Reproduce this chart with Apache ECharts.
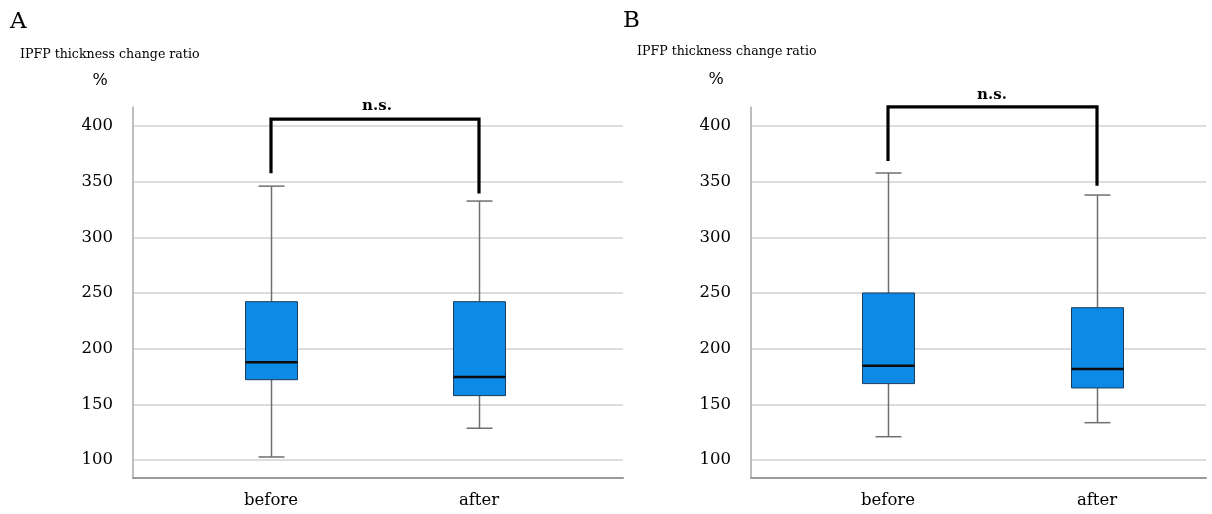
<!DOCTYPE html>
<html>
<head>
<meta charset="utf-8">
<script src="https://cdn.jsdelivr.net/npm/echarts@6/dist/echarts.min.js"></script>
<style>
html,body{margin:0;padding:0;background:#fff;}
#chart{width:1212px;height:514px;}
</style>
</head>
<body>
<div id="chart"></div>
<script>
// ---- data ----
const categories = ['before', 'after'];
const yTicks = [100, 150, 200, 250, 300, 350, 400];
// [min, Q1, median, Q3, max]
const boxA = [[102.7, 172.1, 187.7, 242.2, 346.0], [128.5, 157.8, 174.6, 242.2, 332.6]];
const boxB = [[120.9, 168.6, 184.7, 250.0, 357.8], [133.5, 164.7, 181.7, 236.8, 338.0]];
// significance bracket: [left end, top, right end]
const bracketA = [357.6, 406.2, 339.5];
const bracketB = [368.6, 417.3, 346.4];
const sigLabel = 'n.s.';
const panelLabels = ['A', 'B'];
const yTitle = 'IPFP thickness change ratio';
const yUnit = '%';

// ---- style ----
const Y_MIN = 83.8, Y_MAX = 417.1;
const SERIF = '"DejaVu Serif", "Liberation Serif", serif';
const BOX_FILL = '#0d8ae6';
const BOX_BORDER = '#1d3b5a';
const WHISKER = '#6f6f6f';

const chart = echarts.init(document.getElementById('chart'), null, {renderer: 'canvas'});

const frameGrids = [
  {left: 133, width: 490, top: 107, height: 371},
  {left: 751, width: 455, top: 107, height: 371}
];
const dataGrids = [
  {left: 167, width: 416, top: 107, height: 371},
  {left: 783.5, width: 418, top: 107, height: 371}
];

const grids = [...frameGrids, ...dataGrids];

const xAxes = [];
const yAxes = [];
for (let i = 0; i < 2; i++) {
  xAxes.push({
    gridIndex: i, type: 'category', data: categories,
    axisLine: {show: true, lineStyle: {color: '#9a9a9a', width: 2}},
    axisTick: {show: false}, axisLabel: {show: false}, splitLine: {show: false}
  });
  yAxes.push({
    gridIndex: i, type: 'value', min: Y_MIN, max: Y_MAX,
    axisLine: {show: true, lineStyle: {color: '#a8a8a8', width: 1.5}},
    axisTick: {show: false, customValues: yTicks},
    axisLabel: {customValues: yTicks, margin: 20, color: '#000', fontFamily: SERIF, fontSize: 16.5},
    splitLine: {show: true, lineStyle: {color: '#d2d2d2', width: 1.5}}
  });
}
for (let i = 0; i < 2; i++) {
  xAxes.push({
    gridIndex: 2 + i, type: 'category', data: categories,
    axisLine: {show: false}, axisTick: {show: false},
    axisLabel: {margin: 14, color: '#000', fontFamily: SERIF, fontSize: 16.5},
    splitLine: {show: false}
  });
  yAxes.push({
    gridIndex: 2 + i, type: 'value', min: Y_MIN, max: Y_MAX, show: false,
    splitLine: {show: false}
  });
}

function boxRender(params, api) {
  const idx = api.value(0);
  const vMin = api.coord([idx, api.value(1)]);
  const vQ1 = api.coord([idx, api.value(2)]);
  const vMed = api.coord([idx, api.value(3)]);
  const vQ3 = api.coord([idx, api.value(4)]);
  const vMax = api.coord([idx, api.value(5)]);
  const cx = Math.round(vMed[0]) + 0.5;
  const bw = 52, cw = 26;
  const wStyle = {stroke: WHISKER, lineWidth: 1.5};
  return {
    type: 'group',
    children: [
      {type: 'line', shape: {x1: cx, y1: vMax[1], x2: cx, y2: vQ3[1]}, style: wStyle},
      {type: 'line', shape: {x1: cx, y1: vQ1[1], x2: cx, y2: vMin[1]}, style: wStyle},
      {type: 'line', shape: {x1: cx - cw / 2, y1: vMax[1], x2: cx + cw / 2, y2: vMax[1]}, style: wStyle},
      {type: 'line', shape: {x1: cx - cw / 2, y1: vMin[1], x2: cx + cw / 2, y2: vMin[1]}, style: wStyle},
      {type: 'rect', shape: {x: cx - bw / 2, y: vQ3[1], width: bw, height: vQ1[1] - vQ3[1]},
        style: {fill: BOX_FILL, stroke: BOX_BORDER, lineWidth: 1}},
      {type: 'line', shape: {x1: cx - bw / 2, y1: vMed[1], x2: cx + bw / 2, y2: vMed[1]},
        style: {stroke: '#0a0a0a', lineWidth: 2.5}}
    ]
  };
}

function boxData(box) {
  return box.map((b, i) => [i, ...b]);
}
function bracketData(br) {
  return [[categories[0], br[0]], [categories[0], br[1]], [categories[1], br[1]], [categories[1], br[2]]];
}

const boxes = [boxA, boxB];
const brackets = [bracketA, bracketB];
const series = [];
for (let i = 0; i < 2; i++) {
  series.push({
    type: 'custom', xAxisIndex: 2 + i, yAxisIndex: 2 + i,
    renderItem: boxRender, clip: false,
    encode: {x: 0, y: [1, 2, 3, 4, 5]},
    data: boxData(boxes[i]), silent: true
  });
  series.push({
    type: 'line', xAxisIndex: 2 + i, yAxisIndex: 2 + i,
    data: bracketData(brackets[i]), symbol: 'none', clip: false,
    lineStyle: {color: '#000', width: 3.2, join: 'miter', cap: 'butt'},
    silent: true, z: 5, animation: false
  });
}

function txt(x, y, text, font, align) {
  return {
    type: 'text', x: x, y: y, silent: true,
    style: {text: text, font: font, fill: '#000', align: align || 'left', verticalAlign: 'middle'}
  };
}

const graphic = [
  txt(10, 22, panelLabels[0], '23px ' + SERIF),
  txt(20, 55, yTitle, '12.6px ' + SERIF),
  txt(100, 81, yUnit, '16px ' + SERIF, 'center'),
  txt(377, 106, sigLabel, 'bold 15px ' + SERIF, 'center'),
  txt(623, 21, panelLabels[1], '23px ' + SERIF),
  txt(637, 52, yTitle, '12.6px ' + SERIF),
  txt(716, 80, yUnit, '16px ' + SERIF, 'center'),
  txt(992, 95, sigLabel, 'bold 15px ' + SERIF, 'center')
];

chart.setOption({
  animation: false,
  backgroundColor: '#fff',
  grid: grids,
  xAxis: xAxes,
  yAxis: yAxes,
  series: series,
  graphic: graphic
});
</script>
</body>
</html>
